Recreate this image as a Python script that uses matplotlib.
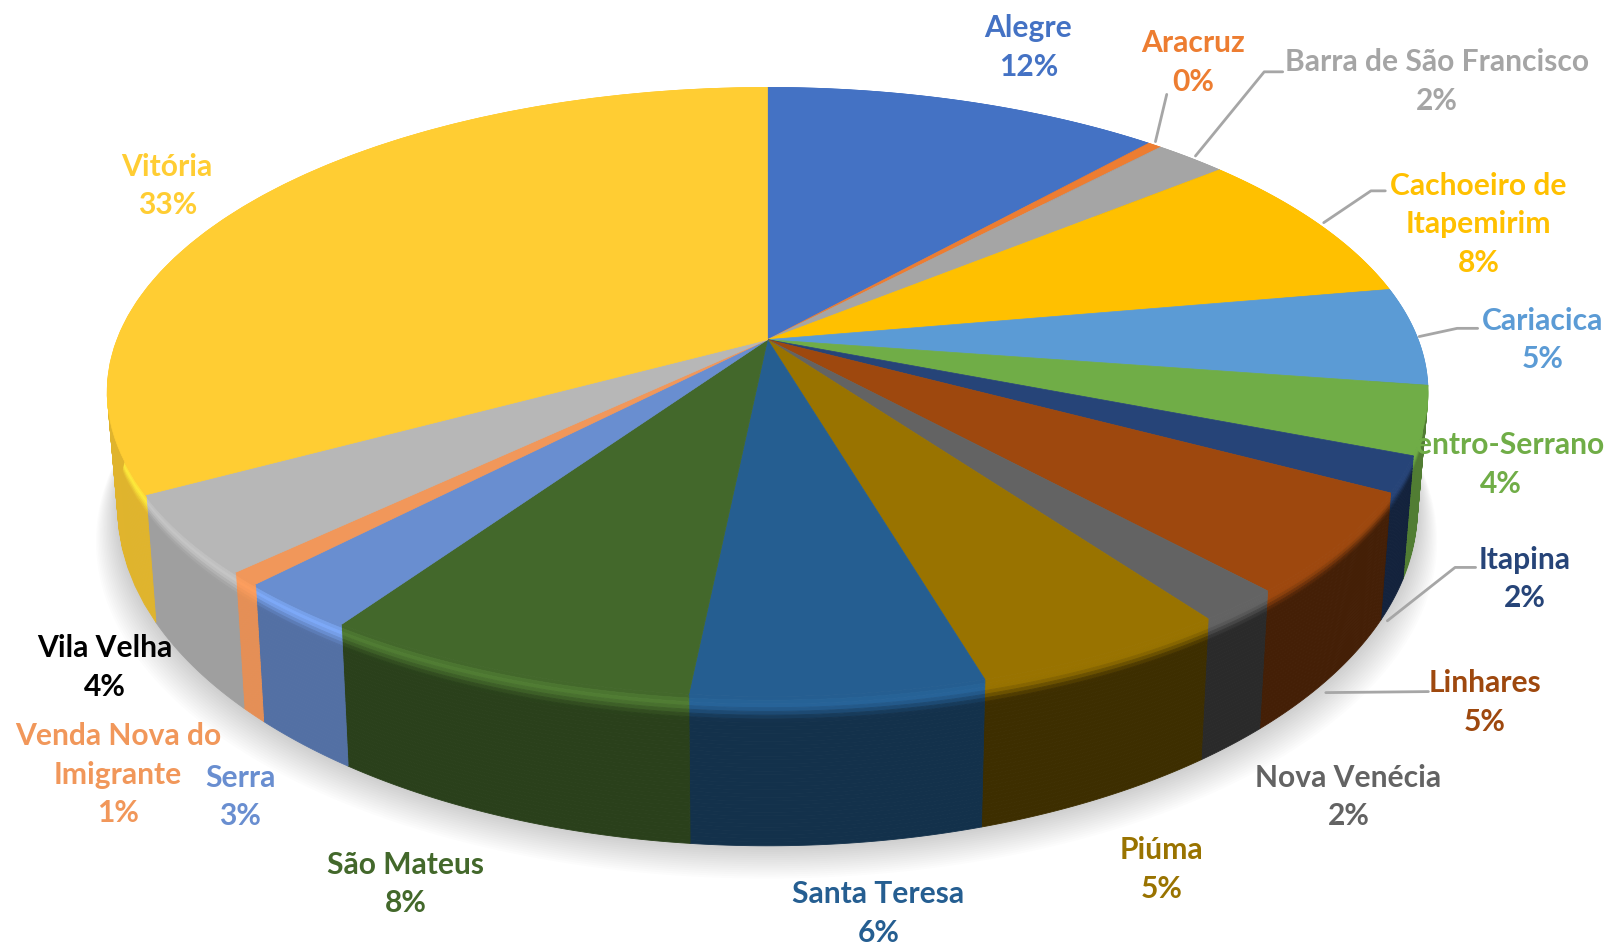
import matplotlib
matplotlib.use("Agg")
import matplotlib.pyplot as plt
import numpy as np

# values, in percent
cities = ["Alegre", "Aracruz", "Barra de São Francisco", "Cachoeiro de\nItapemirim", "Cariacica",
          "Centro-Serrano", "Itapina", "Linhares", "Nova Venécia", "Piúma", "Santa Teresa",
          "São Mateus", "Serra", "Venda Nova do\nImigrante", "Vila Velha", "Vitória"]
values = [11.5, 0.4, 2.1, 8.2, 5.2, 3.6, 1.9, 5.4, 1.8, 5.4, 6.1, 7.9, 2.6, 0.7, 4.2, 33.0]

slice_colors = ["#4472c4", "#ed7d31", "#a5a5a5", "#ffc000", "#5b9bd5", "#70ad47", "#264478", "#9e480e",
                "#636363", "#997300", "#255e91", "#43682b", "#698ed0", "#f1975a", "#b7b7b7", "#ffcd33"]
text_colors = slice_colors[:14] + ["#000000", "#ffcd33"]
# how dark the side wall gets and how bright its upper edge is
side_shade = [0.6, 0.6, 0.6, 0.6, 0.6, 0.72, 0.5, 0.43, 0.42, 0.4, 0.52, 0.62, 0.79, 0.95, 0.87, 0.88]
edge_light = [1.0, 1.0, 1.0, 1.0, 1.0, 1.0, 1.0, 1.0, 1.0, 1.0, 1.06, 1.2, 1.2, 1.05, 1.08, 1.15]

label_pos = [(1002, 46.5), (1163, 61), (1400, 79.5), (1441, 218.5), (1503, 331.5), (1463, 452.5), (1486, 564.5),
             (1447, 684.5), (1314, 776.5), (1132, 847.5), (856, 890.5), (395, 861.5), (234, 776.5), (115, 755),
             (102, 650.5), (163, 181.5)]
leaders = [[(1137, 92), (1126, 138)],
           [(1250, 70), (1232, 70), (1165, 152)],
           [(1350, 186), (1336, 186), (1290, 217)],
           [(1440, 320), (1420, 320), (1383, 328)],
           [(1438, 553), (1418, 553), (1352, 605)],
           [(1392, 674), (1292, 675)]]

# perspective of the pie top, in pixels of the 1568x920 view
cx, cy = 748, 331
A, B, k = 634, 288, 0.1718


def top_rim(theta):
    u, v = np.sin(theta), np.cos(theta)
    w = 1 + k * v
    return cx + A * u / w, cy - B * v / w


def wall(theta, t):
    # point on the side wall, t=0 at the top rim and t=1 at the bottom rim
    x, y = top_rim(theta)
    xb = cx + 0.984 * (x - cx)
    yb = y + 108 + 0.108 * (y - cy)
    return x + t * (xb - x), y + t * (yb - y)


def mix(c1, c2, t):
    return tuple(np.clip(np.array(c1) * (1 - t) + np.array(c2) * t, 0, 1))


fig = plt.figure(figsize=(16.09, 9.44), dpi=100)
ax = fig.add_axes([0, 0, 1, 1])
ax.set_xlim(0, 1568)
ax.set_ylim(920, 0)
ax.axis("off")

edges = np.cumsum([0] + values) / sum(values) * 2 * np.pi

# soft shadow under the pie
full = np.linspace(0, 2 * np.pi, 300)
bx, by = wall(full, 1.0)
for d in np.linspace(32, 2, 16):
    ax.fill(cx + 30 + (bx - cx - 30) * (1 + d / 1000), by + d, color="black", alpha=0.011, lw=0, zorder=1)

# side wall, in thin bands
bands = np.linspace(0, 1, 41)
for i in range(len(values)):
    th = np.linspace(edges[i], edges[i + 1], 40)
    base = np.array(matplotlib.colors.to_rgb(slice_colors[i]))
    dark = base * side_shade[i]
    light = np.clip(base * edge_light[i], 0, 1)
    for t0, t1 in zip(bands[:-1], bands[1:]):
        x0, y0 = wall(th, t0)
        x1, y1 = wall(th, t1)
        if t0 < 0.04:
            col = mix(base, light, t0 / 0.04)
        else:
            s = min((t0 - 0.04) / 0.12, 1)
            col = mix(light, dark, s * s * (3 - 2 * s))
        ax.fill(np.r_[x0, x1[::-1]], np.r_[y0, y1[::-1]], color=col, lw=0.6, zorder=2)

# top face
for i in range(len(values)):
    th = np.linspace(edges[i], edges[i + 1], 80)
    x, y = top_rim(th)
    ax.fill(np.r_[cx, x], np.r_[cy, y], color=slice_colors[i], lw=0.5, zorder=3)

for pts in leaders:
    xs, ys = zip(*pts)
    ax.plot(xs, ys, color="#a6a6a6", lw=2, zorder=4, solid_capstyle="round")

for city, val, col, (lx, ly) in zip(cities, values, text_colors, label_pos):
    ax.text(lx, ly, f"{city}\n{round(val)}%", color=col, ha="center", va="center", family="Lato",
            fontweight="bold", fontsize=21.6, linespacing=1.455, zorder=5)

fig.savefig("out.png", dpi=100)
